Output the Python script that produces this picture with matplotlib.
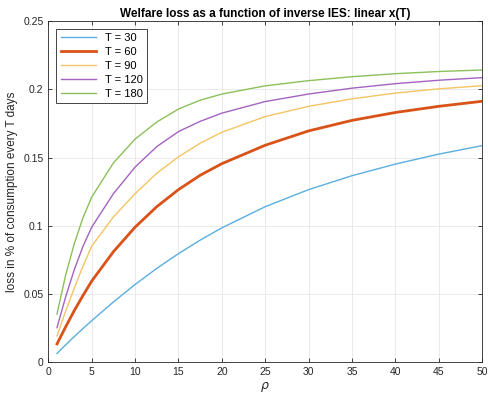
import numpy as np
import matplotlib.pyplot as plt

plt.rcParams['font.family'] = ['Liberation Sans', 'DejaVu Sans']

# values
rho = [1, 2, 3, 4, 5, 7.5, 10, 12.5, 15, 17.5, 20, 25, 30, 35, 40, 45, 50]

loss_30 = [0.0065, 0.0128, 0.0189, 0.0248, 0.0305, 0.0442, 0.0570, 0.0688,
           0.0796, 0.0895, 0.0985, 0.1140, 0.1265, 0.1367, 0.1452, 0.1525, 0.1587]
loss_60 = [0.0135, 0.0260, 0.0380, 0.0490, 0.0595, 0.0810, 0.0990, 0.1140,
           0.1265, 0.1370, 0.1455, 0.1590, 0.1695, 0.1772, 0.1830, 0.1875, 0.1912]
loss_90 = [0.0193, 0.0375, 0.0545, 0.0705, 0.0850, 0.1065, 0.1235, 0.1385,
           0.1505, 0.1605, 0.1685, 0.1800, 0.1875, 0.1930, 0.1972, 0.2003, 0.2026]
loss_120 = [0.0254, 0.0480, 0.0680, 0.0850, 0.0990, 0.1235, 0.1430, 0.1580,
            0.1690, 0.1765, 0.1825, 0.1910, 0.1965, 0.2008, 0.2041, 0.2066, 0.2085]
loss_180 = [0.0354, 0.0640, 0.0870, 0.1060, 0.1210, 0.1460, 0.1635, 0.1760,
            0.1855, 0.1920, 0.1965, 0.2025, 0.2063, 0.2092, 0.2114, 0.2130, 0.2141]

labels = ['T = 30', 'T = 60', 'T = 90', 'T = 120', 'T = 180']
colors = ['#5aaee0', '#d95319', '#f3c463', '#a463c0', '#8cc05a']
widths = [1.0, 2.0, 1.0, 1.0, 1.0]

fig = plt.figure(figsize=(4.88, 3.96), dpi=100)
ax = fig.add_axes([0.099, 0.085, 0.889, 0.862])

series = [loss_30, loss_60, loss_90, loss_120, loss_180]
for y, lab, c, lw in zip(series, labels, colors, widths):
    ax.plot(rho, y, color=c, lw=lw, label=lab)

ax.set_xlim(0, 50)
ax.set_ylim(0, 0.25)
ax.set_xticks(np.arange(0, 51, 5))
ax.set_yticks([0, 0.05, 0.1, 0.15, 0.2, 0.25])
ax.set_yticklabels(['0', '0.05', '0.1', '0.15', '0.2', '0.25'])
ax.tick_params(direction='in', length=3, width=0.6, labelsize=7.5,
               colors='#262626', top=True, right=True)
for s in ax.spines.values():
    s.set_color('#262626')
    s.set_linewidth(0.6)
ax.grid(True, color='#e6e6e6', lw=0.6)
ax.set_axisbelow(True)

ax.set_title('Welfare loss as a function of inverse IES: linear x(T)',
             fontsize=8.5, fontweight='bold', pad=3)
ax.set_xlabel(r'$\rho$', fontsize=9, color='#262626', labelpad=2)
ax.set_ylabel('loss in % of consumption every T days', fontsize=8.5,
              color='#262626', labelpad=4)

leg = ax.legend(loc='upper left', fontsize=8, handlelength=3.2,
                borderaxespad=0.7, fancybox=False, edgecolor='#262626',
                framealpha=1, labelspacing=0.35, borderpad=0.4)
leg.get_frame().set_linewidth(0.6)

fig.savefig('out.png', dpi=100)
